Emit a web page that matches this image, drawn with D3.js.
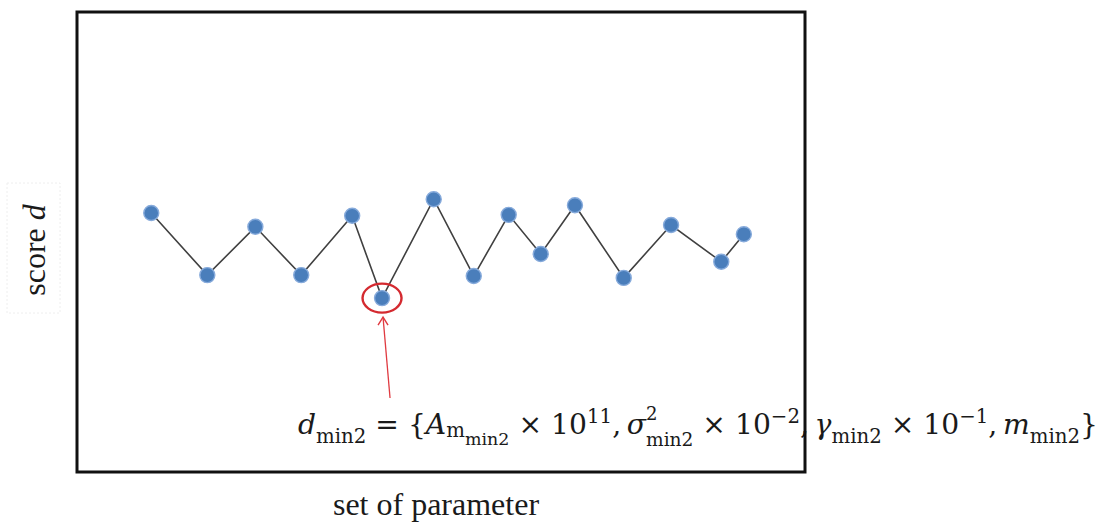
<!DOCTYPE html>
<html>
<head>
<meta charset="utf-8">
<script src="https://cdn.jsdelivr.net/npm/d3@7"></script>
<style>
  html, body { margin: 0; padding: 0; background: #fff; }
  text { font-family: "Liberation Serif", "Times New Roman", serif; fill: #1a1a1a; }
  text.formula { font-family: "DejaVu Serif", serif; }
</style>
</head>
<body>
<div class="chartDiv"></div>
<script>
(function(){
  // data: parameter sets (x, arbitrary units) and score d for each
  var paramSet = [10.2, 17.9, 24.5, 30.8, 37.8, 41.9, 49.0, 54.5, 59.3, 63.7, 68.4, 75.1, 81.6, 88.5, 91.6];
  var scoreD   = [5.63, 4.28, 5.33, 4.28, 5.57, 3.78, 5.93, 4.26, 5.59, 4.74, 5.80, 4.22, 5.37, 4.57, 5.17];
  var xLabel   = "set of parameter";
  var yLabel   = "score ";
  var yLabelVar = "d";

  var width  = 1105,
      height = 524,
      frame  = {left: 77, top: 12, right: 805, bottom: 472};

  var svg = d3.select(".chartDiv").append("svg")
              .attr("width", width).attr("height", height);

  var x = d3.scaleLinear().domain([0, 100]).range([frame.left, frame.right]);
  var y = d3.scaleLinear().domain([0, 10]).range([frame.bottom, frame.top]);

  var pts = paramSet.map(function(p, i){ return {x: x(p), y: y(scoreD[i]), v: scoreD[i]}; });

  // line
  svg.append("path")
     .datum(pts)
     .attr("fill", "none")
     .attr("stroke", "#404040")
     .attr("stroke-width", 1.6)
     .attr("d", d3.line().x(function(d){ return d.x; }).y(function(d){ return d.y; }));

  // points
  svg.selectAll("circle.pt").data(pts).enter().append("circle")
     .attr("class", "pt")
     .attr("cx", function(d){ return d.x; })
     .attr("cy", function(d){ return d.y; })
     .attr("r", 7.5)
     .attr("fill", "#4a7ebb")
     .attr("stroke", "#86aadb")
     .attr("stroke-width", 1.4);

  // minimum marker
  var minIdx = d3.minIndex(scoreD);
  var mp = pts[minIdx];
  svg.append("ellipse")
     .attr("cx", mp.x).attr("cy", mp.y)
     .attr("rx", 19.5).attr("ry", 14.5)
     .attr("fill", "none")
     .attr("stroke", "#d42a30")
     .attr("stroke-width", 2.4);

  var tipX = mp.x + 1, tipY = mp.y + 19;
  var tailX = mp.x + 8, tailY = 398;
  svg.append("line")
     .attr("x1", tailX).attr("y1", tailY).attr("x2", tipX).attr("y2", tipY)
     .attr("stroke", "#e03a40").attr("stroke-width", 1.3);
  svg.append("path")
     .attr("d", "M" + (tipX - 5) + "," + (tipY + 8) + "L" + tipX + "," + tipY + "L" + (tipX + 5) + "," + (tipY + 8))
     .attr("fill", "none").attr("stroke", "#e03a40").attr("stroke-width", 1.4);

  // formula, one text with positioned tspans
  var S = 30;
  var lv = {
    base:   {s: 1.0,  dy: 0},
    sup:    {s: 0.7,  dy: -0.4},
    sub:    {s: 0.7,  dy: 0.33},
    subA:   {s: 0.7,  dy: 0.12},
    subsub: {s: 0.62, dy: 0.4},
    supS:   {s: 0.64, dy: -0.5},
    subS:   {s: 0.66, dy: 0.43}
  };
  var nb = "\u00A0";
  var parts = [
    ["d", "it", "base"], ["min2", "rm", "sub"], [nb + "=" + nb + "{", "rm", "base"],
    ["A", "it", "base"], ["m", "rm", "subA"], ["min2", "rm", "subsub"],
    [nb + "×" + nb + "10", "rm", "base"], ["11", "rm", "sup"], [",\u2009", "rm", "base"],
    ["σ", "it", "base"], ["2", "rm", "supS", "stackStart"], ["min2", "rm", "subS", "stack"],
    [nb + "×" + nb + "10", "rm", "base"], ["−2", "rm", "sup", "anchor"], [",\u2009", "rm", "base"],
    ["γ", "it", "base"], ["min2", "rm", "sub"],
    [nb + "×" + nb + "10", "rm", "base"], ["−1", "rm", "sup"], [",\u2009", "rm", "base"],
    ["m", "it", "base"], ["min2", "rm", "sub"], ["}", "rm", "base"]
  ];
  var ft = svg.append("text").attr("class", "formula");
  var cursor = 0, stackX = 0, stackW = 0, anchorEnd = 0;
  parts.forEach(function(p){
    var L = lv[p[2]];
    var xx = cursor;
    if(p[3] === "stack"){ xx = stackX; }
    var t = ft.append("tspan")
              .attr("x", xx).attr("y", L.dy * S)
              .attr("font-size", L.s * S)
              .attr("font-style", p[1] === "it" ? "italic" : "normal")
              .text(p[0]);
    var w = t.node().getComputedTextLength();
    if(p[3] === "stackStart"){ stackX = xx; stackW = w; cursor = xx + w; }
    else if(p[3] === "stack"){ cursor = stackX + Math.max(stackW, w); }
    else { cursor = xx + w; }
    if(p[3] === "anchor"){ anchorEnd = cursor; }
  });
  // fit: "-2" ends at the frame's right edge, "}" ends near the window edge
  var endX = 1098, anchorX = 800;
  var k = (endX - anchorX) / (cursor - anchorEnd);
  var startX = endX - k * cursor;
  ft.attr("transform", "translate(" + startX + ",434) scale(" + k + ")");

  // axis labels
  svg.append("text")
     .attr("x", (frame.left + frame.right) / 2 - 5)
     .attr("y", 515)
     .attr("text-anchor", "middle")
     .attr("font-size", 32)
     .text(xLabel);

  svg.append("rect")
     .attr("x", 7).attr("y", 183).attr("width", 53).attr("height", 130)
     .attr("fill", "none").attr("stroke", "#eeeeee").attr("stroke-dasharray", "2,2");
  var yl = svg.append("text")
     .attr("transform", "translate(45,250) rotate(-90)")
     .attr("text-anchor", "middle")
     .attr("font-size", 32);
  yl.append("tspan").text(yLabel);
  yl.append("tspan").attr("font-style", "italic").text(yLabelVar);

  // frame
  svg.append("rect")
     .attr("x", frame.left).attr("y", frame.top)
     .attr("width", frame.right - frame.left).attr("height", frame.bottom - frame.top)
     .attr("fill", "none").attr("stroke", "#111").attr("stroke-width", 3);
})()
</script>
</body>
</html>
